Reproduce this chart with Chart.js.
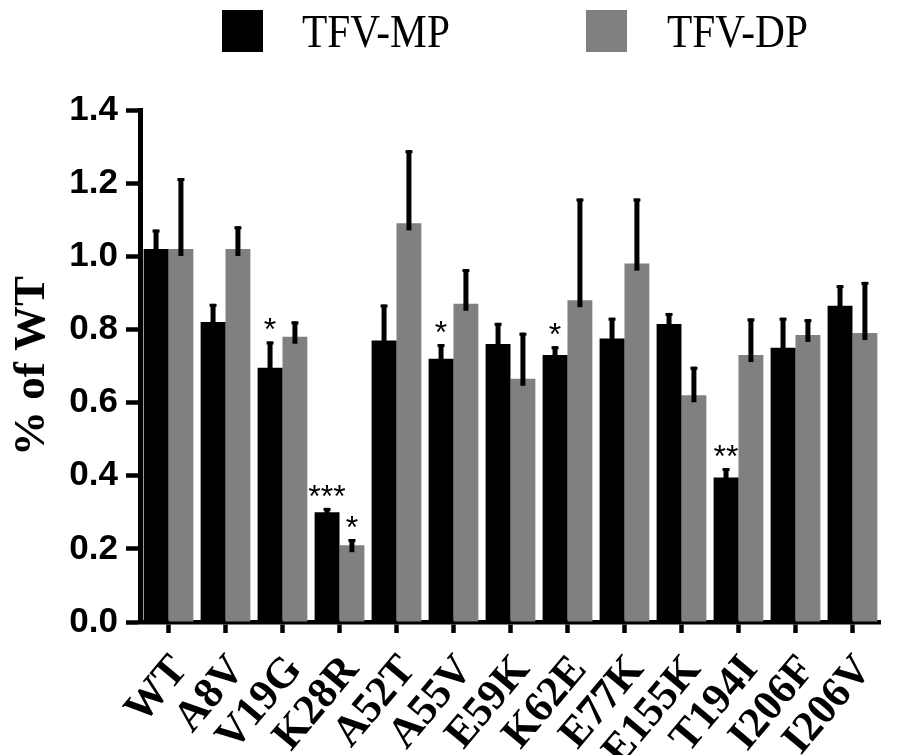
<!DOCTYPE html>
<html>
<head>
<meta charset="utf-8">
<script src="https://cdn.jsdelivr.net/npm/chart.js@4.4.1/dist/chart.umd.min.js"></script>
<style>
  html, body { margin: 0; padding: 0; background: #fff; overflow: hidden; }
  #wrap { width: 905px; height: 755px; position: relative; }
</style>
</head>
<body>
<div id="wrap"><canvas id="chart"></canvas></div>
<script>
// Mutant panel, values as fraction of WT
var mutants = ['WT', 'A8V', 'V19G', 'K28R', 'A52T', 'A55V', 'E59K', 'K62E', 'E77K', 'E155K', 'T194I', 'I206F', 'I206V'];

var mpMean = [1.02, 0.82, 0.695, 0.30, 0.77, 0.72, 0.76, 0.73, 0.775, 0.815, 0.395, 0.75, 0.865];
var mpErr  = [0.053, 0.05, 0.072, 0.012, 0.098, 0.04, 0.058, 0.024, 0.057, 0.03, 0.026, 0.082, 0.056];
var mpSig  = ['', '', '*', '***', '', '*', '', '*', '', '', '**', '', ''];

var dpMean = [1.02, 1.02, 0.78, 0.21, 1.09, 0.87, 0.665, 0.88, 0.98, 0.62, 0.73, 0.785, 0.79];
var dpErr  = [0.194, 0.062, 0.042, 0.017, 0.20, 0.095, 0.126, 0.278, 0.178, 0.078, 0.10, 0.043, 0.14];
var dpSig  = ['', '', '', '*', '', '', '', '', '', '', '', '', ''];

var SERIF = '"Liberation Serif", "Times New Roman", serif';
var SANS = '"Liberation Sans", Arial, sans-serif';

// upward-only error bars with a small cap, plus significance stars
var errorBars = {
  id: 'errorBars',
  afterDatasetsDraw: function(chart) {
    var ctx = chart.ctx, y = chart.scales.y;
    var errs = [mpErr, dpErr], sigs = [mpSig, dpSig];
    chart.data.datasets.forEach(function(ds, d) {
      chart.getDatasetMeta(d).data.forEach(function(bar, i) {
        var top = y.getPixelForValue(ds.data[i] + errs[d][i]);
        ctx.save();
        ctx.fillStyle = '#000';
        ctx.fillRect(bar.x - 2.5, top, 5, bar.y + 7 - top);
        ctx.fillRect(bar.x - 3.5, top, 7, 3);
        if (sigs[d][i]) {
          ctx.font = '32px ' + SANS;
          ctx.textAlign = 'center';
          ctx.textBaseline = 'alphabetic';
          ctx.fillText(sigs[d][i], bar.x, top - 1);
        }
        ctx.restore();
      });
    });
  }
};

// legend drawn by hand: big squares, condensed Times labels
var topLegend = {
  id: 'topLegend',
  afterDraw: function(chart) {
    var ctx = chart.ctx;
    var boxX = [222, 586], textX = [302, 667];
    chart.data.datasets.forEach(function(ds, d) {
      ctx.save();
      ctx.fillStyle = ds.backgroundColor;
      ctx.fillRect(boxX[d], 10, 41, 42);
      ctx.fillStyle = '#000';
      ctx.font = '47px ' + SERIF;
      ctx.textBaseline = 'alphabetic';
      ctx.translate(textX[d], 47);
      ctx.scale(0.88, 1);
      ctx.fillText(ds.label, 0, 0);
      ctx.restore();
    });
  }
};

new Chart(document.getElementById('chart'), {
  type: 'bar',
  data: {
    labels: mutants,
    datasets: [
      { label: 'TFV-MP', data: mpMean, backgroundColor: '#000000', categoryPercentage: 0.873, barPercentage: 1.0 },
      { label: 'TFV-DP', data: dpMean, backgroundColor: '#808080', categoryPercentage: 0.873, barPercentage: 1.0 }
    ]
  },
  options: {
    responsive: true, maintainAspectRatio: false, animation: false,
    layout: { padding: { top: 110, right: 0, bottom: 0, left: 0 } },
    plugins: { legend: { display: false }, tooltip: { enabled: false } },
    scales: {
      x: {
        grid: { offset: false, drawOnChartArea: false, tickLength: 11, tickWidth: 4.5, color: '#000' },
        border: { display: true, width: 4.5, color: '#000' },
        ticks: {
          color: '#000', maxRotation: 50, minRotation: 50, padding: 13, labelOffset: 12, autoSkip: false,
          font: { family: SERIF, size: 43, weight: 'bold' }
        },
        afterFit: function(s) { s.height = 133; }
      },
      y: {
        min: 0, max: 1.4,
        grid: { drawOnChartArea: false, tickLength: 14, tickWidth: 4.5, color: '#000' },
        border: { display: true, width: 5, color: '#000' },
        ticks: {
          stepSize: 0.2, color: '#000', padding: 8,
          font: { family: SANS, size: 35, weight: 'bold' },
          callback: function(v) { return v.toFixed(1); }
        },
        title: {
          display: true, text: '% of WT', color: '#000', padding: { top: 5, bottom: 0 },
          font: { family: SERIF, size: 45, weight: 'bold' }
        },
        afterFit: function(s) { s.width = 140; }
      }
    }
  },
  plugins: [errorBars, topLegend]
});
</script>
</body>
</html>
